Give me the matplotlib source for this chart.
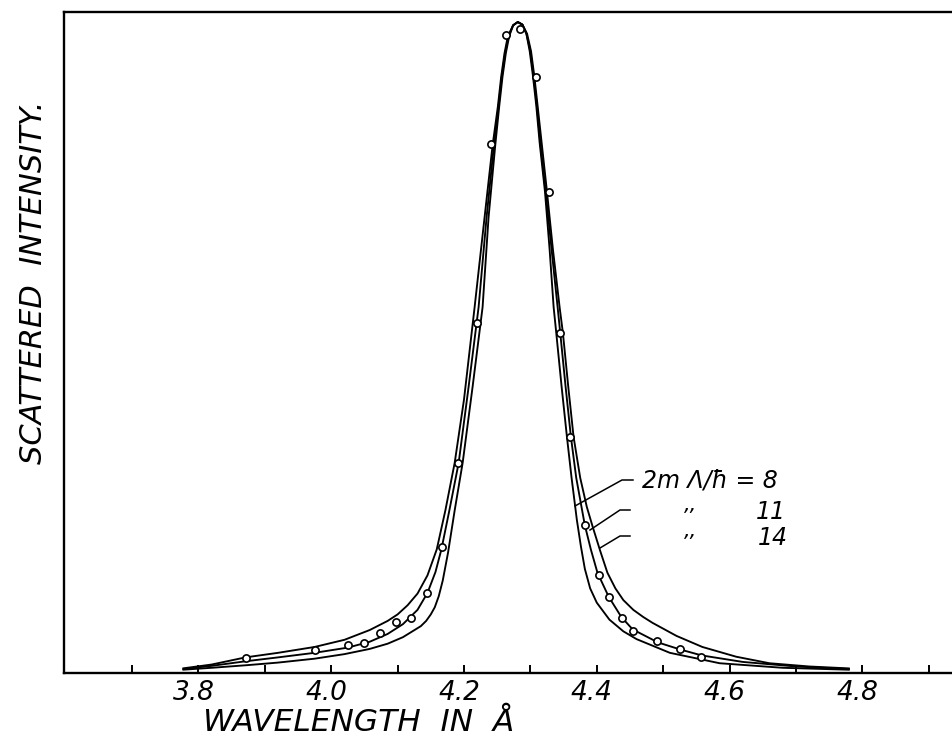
import matplotlib
matplotlib.use("Agg")
import matplotlib.pyplot as plt
import matplotlib.transforms as mtransforms
from matplotlib.ticker import FixedLocator, NullFormatter

plt.rcParams['font.family'] = ['DejaVu Sans']

# ---- data (wavelength in Angstrom, normalised intensity) ----
x_8 = [3.776, 3.820, 3.873, 3.920, 3.975, 4.020, 4.058, 4.085, 4.108, 4.135, 4.143, 4.150,
       4.156, 4.162, 4.168, 4.176, 4.186, 4.198, 4.213, 4.228, 4.237, 4.247, 4.253, 4.258,
       4.263, 4.268, 4.274, 4.281, 4.288, 4.294, 4.299, 4.304, 4.309, 4.314, 4.322, 4.329,
       4.335, 4.339, 4.347, 4.355, 4.362, 4.370, 4.376, 4.382, 4.390, 4.400, 4.419, 4.440,
       4.460, 4.510, 4.585, 4.680, 4.781]
y_8 = [0.005, 0.008, 0.012, 0.016, 0.022, 0.029, 0.037, 0.045, 0.055, 0.072, 0.080, 0.090,
       0.101, 0.118, 0.142, 0.185, 0.250, 0.323, 0.440, 0.562, 0.700, 0.810, 0.870, 0.916,
       0.952, 0.978, 0.995, 1.000, 0.996, 0.982, 0.955, 0.916, 0.870, 0.814, 0.739, 0.650,
       0.562, 0.522, 0.440, 0.363, 0.300, 0.235, 0.195, 0.160, 0.130, 0.108, 0.082, 0.064,
       0.052, 0.031, 0.015, 0.008, 0.005]

x_11 = [3.776, 3.820, 3.871, 3.920, 3.975, 4.025, 4.058, 4.085, 4.108, 4.130, 4.145, 4.157,
        4.166, 4.178, 4.192, 4.207, 4.222, 4.234, 4.245, 4.252, 4.257, 4.262, 4.267, 4.274,
        4.281, 4.288, 4.294, 4.300, 4.305, 4.310, 4.315, 4.323, 4.332, 4.341, 4.345, 4.353,
        4.361, 4.369, 4.377, 4.382, 4.391, 4.401, 4.418, 4.437, 4.454, 4.492, 4.526, 4.558,
        4.620, 4.700, 4.781]
y_11 = [0.006, 0.011, 0.018, 0.024, 0.031, 0.039, 0.048, 0.060, 0.075, 0.097, 0.123, 0.155,
        0.190, 0.250, 0.323, 0.440, 0.562, 0.700, 0.810, 0.870, 0.916, 0.952, 0.978, 0.995,
        1.000, 0.996, 0.982, 0.955, 0.916, 0.870, 0.814, 0.739, 0.650, 0.562, 0.522, 0.440,
        0.363, 0.300, 0.255, 0.227, 0.190, 0.154, 0.117, 0.086, 0.067, 0.047, 0.036, 0.027,
        0.017, 0.010, 0.006]

x_14 = [3.776, 3.820, 3.871, 3.920, 3.975, 4.020, 4.058, 4.085, 4.100, 4.115, 4.130, 4.145,
        4.159, 4.172, 4.186, 4.200, 4.216, 4.231, 4.243, 4.251, 4.256, 4.261, 4.266, 4.274,
        4.281, 4.288, 4.295, 4.301, 4.306, 4.311, 4.317, 4.325, 4.334, 4.344, 4.349, 4.357,
        4.365, 4.375, 4.385, 4.394, 4.405, 4.416, 4.428, 4.440, 4.455, 4.470, 4.484, 4.520,
        4.559, 4.610, 4.660, 4.720, 4.781]
y_14 = [0.007, 0.013, 0.024, 0.031, 0.040, 0.051, 0.066, 0.080, 0.090, 0.104, 0.122, 0.150,
        0.190, 0.250, 0.323, 0.420, 0.562, 0.700, 0.810, 0.870, 0.916, 0.952, 0.978, 0.995,
        1.000, 0.996, 0.982, 0.955, 0.916, 0.870, 0.814, 0.739, 0.650, 0.562, 0.522, 0.440,
        0.363, 0.300, 0.255, 0.224, 0.188, 0.154, 0.130, 0.112, 0.097, 0.086, 0.077, 0.057,
        0.040, 0.025, 0.015, 0.010, 0.007]

x_obs = [3.871, 3.975, 4.025, 4.049, 4.074, 4.097, 4.120, 4.145, 4.167, 4.191, 4.219, 4.241,
         4.264, 4.285, 4.309, 4.328, 4.344, 4.359, 4.382, 4.403, 4.418, 4.438, 4.454, 4.491,
         4.526, 4.557]
y_obs = [0.023, 0.035, 0.043, 0.046, 0.061, 0.079, 0.085, 0.123, 0.194, 0.322, 0.537, 0.813,
         0.980, 0.990, 0.915, 0.739, 0.522, 0.363, 0.227, 0.151, 0.116, 0.085, 0.065, 0.049,
         0.037, 0.024]

major_ticks = [3.8, 4.0, 4.2, 4.4, 4.6, 4.8]
major_labels = ["3.8", "4.0", "4.2", "4.4", "4.6", "4.8"]
minor_ticks = [3.7, 3.9, 4.1, 4.3, 4.5, 4.7, 4.9]

legend_head = "2m \u039b/\u0127 = 8"
legend_vals = ["11", "14"]
ditto = ",,"

# ---- figure ----
W, H = 952, 738
fig = plt.figure(figsize=(W / 100, H / 100), dpi=100)
ax = fig.add_axes([64 / W, (H - 673) / H, (960 - 64) / W, (673 - 12) / H])
ax.set_xlim(3.5976, 4.947)
ax.set_ylim(0, 1.0154)

for xs, ys in [(x_8, y_8), (x_11, y_11), (x_14, y_14)]:
    ax.plot(xs, ys, color='black', lw=1.35, solid_joinstyle='round', solid_capstyle='butt')

ax.plot(x_obs, y_obs, linestyle='none', marker='o', markersize=5.2,
        markerfacecolor='white', markeredgecolor='black', markeredgewidth=1.2)

for s in ['top', 'left', 'bottom']:
    ax.spines[s].set_linewidth(1.7)
ax.spines['right'].set_visible(False)

ax.xaxis.set_major_locator(FixedLocator(major_ticks))
ax.set_xticklabels(major_labels, fontsize=19, style='italic')
ax.xaxis.set_minor_locator(FixedLocator(minor_ticks))
ax.xaxis.set_minor_formatter(NullFormatter())
ax.tick_params(axis='x', which='both', direction='in', length=6, width=1.4, pad=5, top=False)
ax.set_yticks([])
shift = mtransforms.ScaledTranslation(-5 / 100, 0, fig.dpi_scale_trans)
for lab in ax.get_xticklabels():
    lab.set_transform(lab.get_transform() + shift)

fig.text(34 / W, 1 - 282 / H, "SCATTERED  INTENSITY.", rotation=90, ha='center', va='center',
         fontsize=22, style='italic')
fig.text(203 / W, 1 - 731 / H, "WAVELENGTH  IN  \u00c5", ha='left', va='baseline',
         fontsize=22.5, style='italic')

# legend leaders
def px2data(px, py):
    return ax.transData.inverted().transform(fig.transFigure.transform((px / W, 1 - py / H)))

leaders = [[(633, 480), (622, 480), (575, 506)],
           [(630, 510), (620, 510), (590, 530)],
           [(630, 536), (620, 536), (600, 548)]]
for pts in leaders:
    d = [px2data(*p) for p in pts]
    ax.plot([p[0] for p in d], [p[1] for p in d], color='black', lw=1.1, clip_on=False)

fig.text(642 / W, 1 - 480 / H, legend_head, ha='left', va='center', fontsize=17, style='italic')
fig.text(691 / W, 1 - 511 / H, ditto, ha='center', va='baseline', fontsize=15, style='italic')
fig.text(691 / W, 1 - 537 / H, ditto, ha='center', va='baseline', fontsize=15, style='italic')
fig.text(786 / W, 1 - 512 / H, legend_vals[0], ha='right', va='center', fontsize=17, style='italic')
fig.text(788 / W, 1 - 538 / H, legend_vals[1], ha='right', va='center', fontsize=17, style='italic')

fig.savefig("out.png", dpi=100)
